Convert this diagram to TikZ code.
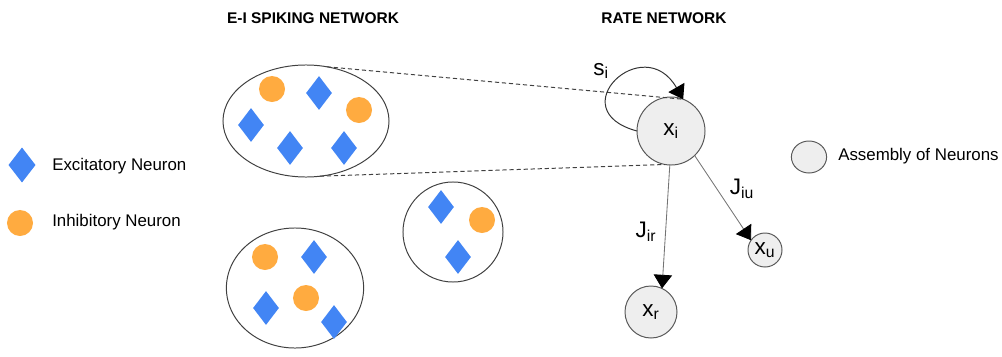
\documentclass[tikz,border=0pt]{standalone}
\usepackage{fontspec}
\setmainfont{Liberation Sans}
\usetikzlibrary{shapes.geometric,arrows.meta}

\definecolor{exblue}{HTML}{4285F4}
\definecolor{inorange}{HTML}{FFAB40}
\definecolor{cellgray}{HTML}{EEEEEE}
\definecolor{rimgray}{HTML}{595959}

\tikzset{
  exc/.style={diamond,fill=exblue,inner sep=0pt,minimum width=0.65cm,minimum height=0.85cm},
  inh/.style={circle,fill=inorange,inner sep=0pt,minimum size=0.65cm},
  pool/.style={ellipse,draw=black!75,line width=0.7pt,inner sep=0pt,outer sep=0pt},
  unit/.style={circle,draw=rimgray,fill=cellgray,line width=0.7pt,inner sep=0pt,outer sep=0pt,
               font=\fontsize{16}{18}\selectfont},
  head/.style={font=\bfseries\fontsize{11}{13}\selectfont},
  legend/.style={font=\fontsize{12}{14}\selectfont,anchor=west,inner sep=0pt},
  wlabel/.style={font=\fontsize{16}{18}\selectfont},
  synapse/.style={-{Triangle[length=0.34cm,width=0.46cm,color=black]}},
  coupling/.style={synapse,draw=black!55,line width=0.6pt},
  zoomline/.style={draw=black!75,line width=0.7pt,dash pattern=on 3pt off 2pt}
}

\begin{document}
\begin{tikzpicture}[x=0.025cm,y=0.025cm]
    \useasboundingbox (0,0) rectangle (1002,-356);

    % headings
    \node[head] (hSpk) at (313,-18) {E-I SPIKING NETWORK};
    \node[head] (hRate) at (664,-18) {RATE NETWORK};

    % spiking populations
    \node[pool,minimum width=4.15cm,minimum height=2.8cm] (popA) at (306,-121) {};
    \node[pool,minimum width=2.5cm,minimum height=2.5cm] (popB) at (453,-232) {};
    \node[pool,minimum width=3.43cm,minimum height=3cm] (popC) at (295,-288) {};

    % neurons inside the populations
    \foreach \x/\y [count=\k] in {319/93,251/125,290/148,344/148,441/207,458/257,314/257,266/308,334/322}
        \node[exc] (e\k) at (\x,-\y) {};
    \foreach \x/\y [count=\k] in {272/89,359/110,482/220,265/257,306/298}
        \node[inh] (i\k) at (\x,-\y) {};

    % rate units
    \node[unit,minimum size=1.7cm] (xi) at (671,-131) {x\textsubscript{i}};
    \node[unit,minimum size=1.3cm] (xr) at (651,-312) {x\textsubscript{r}};
    \node[unit,minimum size=0.85cm] (xu) at (765,-250) {x\textsubscript{u}};

    % population collapsed to one unit
    \draw[zoomline] (popA.69) -- (xi.69);
    \draw[zoomline] (popA.-76) -- (xi.-100);

    % self coupling
    \draw[synapse,line width=0.7pt,draw=black!80] (xi.west) .. controls +(165:80) and +(120:80) .. (xi.69);
    \node[wlabel] (si) at (601,-71) {s\textsubscript{i}};

    % couplings to other units
    \draw[coupling] (xi.-92) -- (xr.65);
    \draw[coupling] (xi.-46) -- (xu.145);
    \node[wlabel] (jir) at (646,-232) {J\textsubscript{ir}};
    \node[wlabel] (jiu) at (742,-189) {J\textsubscript{iu}};

    % legend
    \node[exc,minimum width=0.68cm,minimum height=0.88cm] (lgE) at (22,-165) {};
    \node[legend] (lgEtxt) at (52,-166) {Excitatory Neuron};
    \node[inh] (lgI) at (20,-223) {};
    \node[legend] (lgItxt) at (52,-222) {Inhibitory Neuron};
    \node[unit,ellipse,minimum width=0.88cm,minimum height=0.8cm] (lgA) at (809,-157) {};
    \node[legend] (lgAtxt) at (838,-156) {Assembly of Neurons};
\end{tikzpicture}
\end{document}
